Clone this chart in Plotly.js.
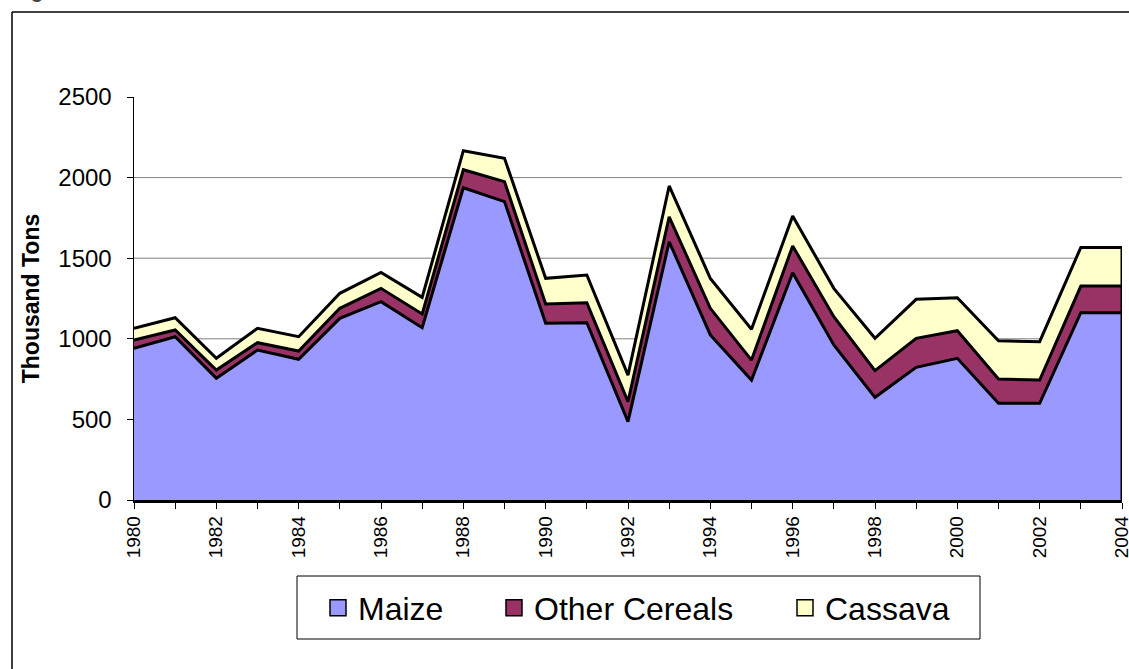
<!DOCTYPE html>
<html>
<head>
<meta charset="utf-8">
<script src="https://cdn.plot.ly/plotly-3.0.1.min.js"></script>
<style>
  html, body { margin: 0; padding: 0; background: #ffffff; }
  #chart { width: 1129px; height: 669px; }
</style>
</head>
<body>
<div id="chart"></div>
<script>
// ---- data (thousand tons) ----
var years = [1980, 1981, 1982, 1983, 1984, 1985, 1986, 1987, 1988, 1989, 1990, 1991, 1992,
             1993, 1994, 1995, 1996, 1997, 1998, 1999, 2000, 2001, 2002, 2003, 2004];
var maize = [941, 1013, 755, 930, 873, 1127, 1230, 1069, 1937, 1851, 1096, 1100, 486,
             1602, 1024, 744, 1410, 962, 637, 823, 879, 600, 600, 1162, 1162];
var otherCereals = [51, 42, 51, 46, 51, 62, 83, 85, 112, 124, 120, 124, 124,
                    155, 165, 124, 166, 175, 165, 180, 171, 151, 144, 165, 165];
var cassava = [73, 76, 73, 89, 89, 93, 99, 103, 118, 145, 159, 172, 165,
               191, 186, 191, 186, 176, 201, 242, 205, 237, 238, 240, 240];
var seriesNames = ['Maize', 'Other Cereals', 'Cassava'];
var seriesColors = ['#9999FF', '#993366', '#FFFFCC'];
var xTickLabels = years.map(function (y) { return (y % 2 === 0) ? String(y) : ''; });
var yTickVals = [0, 500, 1000, 1500, 2000, 2500];
var gridVals = [500, 1000, 1500, 2000];

// ---- geometry helpers (pixel -> paper) ----
var W = 1129, H = 669;
var M = { l: 134, r: 7, t: 97, b: 169 };
var PW = W - M.l - M.r, PH = H - M.t - M.b;
function px(x) { return (x - M.l) / PW; }
function py(y) { return (H - M.b - y) / PH; }

var FONT = 'Liberation Sans, Arial, sans-serif';
var seriesData = [maize, otherCereals, cassava];

var traces = [];
seriesData.forEach(function (vals, i) {
  traces.push({
    type: 'scatter', mode: 'lines', x: years, y: vals,
    stackgroup: 'crops', name: seriesNames[i],
    line: { color: '#000000', width: 3 },
    fillcolor: seriesColors[i],
    showlegend: false, hoverinfo: 'skip'
  });
});

// right-hand edge of the stacked area
var lastIdx = years.length - 1;
var lastTotal = maize[lastIdx] + otherCereals[lastIdx] + cassava[lastIdx];
traces.push({
  type: 'scatter', mode: 'lines',
  x: [years[lastIdx], years[lastIdx]], y: [0, lastTotal],
  line: { color: '#000000', width: 3 },
  showlegend: false, hoverinfo: 'skip'
});

// legend entries
var legendWidths = [131, 246, 130];
seriesData.forEach(function (vals, i) {
  traces.push({
    type: 'scatter', mode: 'markers', x: [null], y: [null],
    name: seriesNames[i], legendwidth: legendWidths[i],
    marker: { symbol: 'square', size: 16, color: seriesColors[i],
              line: { color: '#000000', width: 1.5 } },
    hoverinfo: 'skip'
  });
});

var shapes = [];
gridVals.forEach(function (v) {
  shapes.push({ type: 'line', xref: 'paper', yref: 'y', x0: 0, x1: 1, y0: v, y1: v,
                line: { color: '#808080', width: 1 }, layer: 'below' });
});
// outer frame (top + left visible)
shapes.push({ type: 'line', xref: 'paper', yref: 'paper', x0: px(12), x1: px(1135), y0: py(12), y1: py(12),
              line: { color: '#000000', width: 1.5 } });
shapes.push({ type: 'line', xref: 'paper', yref: 'paper', x0: px(12), x1: px(12), y0: py(12), y1: py(680),
              line: { color: '#000000', width: 1.5 } });
// legend box
shapes.push({ type: 'rect', xref: 'paper', yref: 'paper', x0: px(297), x1: px(980), y0: py(576), y1: py(639),
              line: { color: '#000000', width: 1 }, fillcolor: 'rgba(0,0,0,0)' });

var layout = {
  width: W, height: H,
  margin: M,
  paper_bgcolor: '#ffffff', plot_bgcolor: '#ffffff',
  font: { family: FONT, color: '#000000' },
  showlegend: true,
  legend: {
    orientation: 'h', x: px(318), xanchor: 'left', y: py(608), yanchor: 'middle',
    font: { family: FONT, size: 32, color: '#000000' },
    bgcolor: 'rgba(0,0,0,0)', borderwidth: 0, traceorder: 'normal'
  },
  xaxis: {
    range: [years[0], years[lastIdx]], tickmode: 'array', tickvals: years, ticktext: xTickLabels,
    tickangle: -90, ticks: 'outside', ticklen: 6, tickwidth: 1, tickcolor: '#000000',
    tickfont: { family: FONT, size: 19, color: '#000000' }, ticklabeloverflow: 'allow',
    showline: true, linecolor: '#000000', linewidth: 2.5, showgrid: false, zeroline: false,
    fixedrange: true
  },
  yaxis: {
    range: [0, 2500], tickmode: 'array', tickvals: yTickVals,
    ticks: 'outside', ticklen: 6, tickwidth: 1, tickcolor: '#000000', ticklabelstandoff: 10,
    tickfont: { family: FONT, size: 24, color: '#000000' },
    showline: true, linecolor: '#000000', linewidth: 1.5, showgrid: false, zeroline: false,
    title: { text: '<b>Thousand Tons</b>', font: { family: FONT, size: 23, color: '#000000' }, standoff: 12 },
    fixedrange: true
  },
  shapes: shapes,
  annotations: [{
    xref: 'paper', yref: 'paper', x: px(37), y: py(4), xanchor: 'center', yanchor: 'bottom',
    text: '<b>g</b>', showarrow: false, font: { family: FONT, size: 20, color: '#444444' }
  }]
};

Plotly.newPlot('chart', traces, layout, { displayModeBar: false, staticPlot: true });
</script>
</body>
</html>
